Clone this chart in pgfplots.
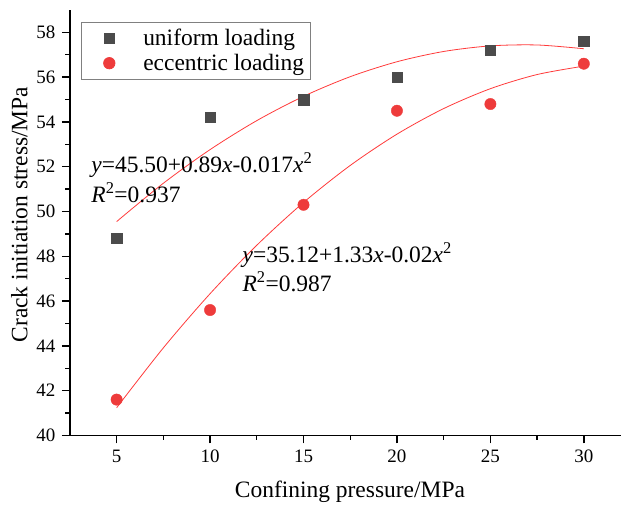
\documentclass[border=0pt]{standalone}
\usepackage{fontspec}
\setmainfont{Liberation Serif}
\usepackage{pgfplots}
\pgfplotsset{compat=1.18}
\definecolor{sq}{HTML}{4B4B4B}
\definecolor{rd}{HTML}{EE3B3B}
\definecolor{fitred}{HTML}{FF3A3A}
\begin{document}
\begin{tikzpicture}
\begin{axis}[
  scale only axis, width=552pt, height=426pt,
  xmin=2.5, xmax=32, ymin=40, ymax=59,
  axis x line=bottom, axis y line=left,
  axis line style={-, line width=1.6pt, black},
  xtick={5,10,...,30}, ytick={40,42,...,58},
  minor x tick num=1, minor y tick num=1,
  tick align=outside,
  major tick length=8pt, minor tick length=4.5pt,
  tick style={line width=1.4pt, black},
  /pgf/number format/assume math mode=true,
  xticklabel={\pgfmathprintnumber[assume math mode=true]{\tick}},
  yticklabel={\pgfmathprintnumber[assume math mode=true]{\tick}},
  ticklabel style={font=\fontsize{19}{22}\selectfont},
  xticklabel style={yshift=-3pt},
  yticklabel style={xshift=-3pt},
  xlabel={Confining pressure/MPa},
  ylabel={Crack initiation stress/MPa},
  label style={font=\fontsize{23.5}{27}\selectfont},
  xlabel style={at={(axis description cs:0.508,-0.1455)}, anchor=base},
  ylabel style={at={(axis description cs:-0.0915,0.519)}, anchor=center},
  legend style={at={(rel axis cs:0.02,0.972)}, anchor=north west,
    draw=gray, line width=0.8pt, font=\fontsize{23.5}{27}\selectfont,
    inner xsep=4pt, inner ysep=5pt, row sep=3pt},
  legend cell align=left,
  legend image code/.code={\path[draw=none, fill=none] (0pt,-1pt) rectangle (40pt,1pt);
    \draw[#1] plot coordinates {(24pt,0pt)};},
  clip=false,
]
\addplot[only marks, mark=square*, mark size=5.2pt, color=sq,
  mark options={fill=sq, draw=sq}]
  coordinates {(5,48.8) (10,54.2) (15,55.0) (20,56.0) (25,57.2) (30,57.6)};
\addlegendentry{\hspace{16pt}uniform loading}
\addplot[only marks, mark=*, mark size=5.7pt, color=rd,
  mark options={fill=rd, draw=rd}]
  coordinates {(5,41.6) (10,45.6) (15,50.3) (20,54.5) (25,54.8) (30,56.6)};
\addlegendentry{\hspace{16pt}eccentric loading}
\addplot[fitred, line width=0.8pt, smooth, forget plot]
  coordinates {(5,49.550) (7.5,51.262) (10,52.765) (12.5,54.059) (15,55.144)
    (17.5,56.021) (20,56.688) (22.5,57.147) (25,57.396) (27.5,57.437) (30,57.269)};
\addplot[fitred, line width=0.8pt, smooth, forget plot]
  coordinates {(5,41.236) (7.5,43.911) (10,46.330) (12.5,48.494) (15,50.403)
    (17.5,52.057) (20,53.454) (22.5,54.597) (25,55.485) (27.5,56.117) (30,56.493)};
\node[anchor=base west, font=\fontsize{23.5}{27}\selectfont, inner sep=0pt]
  at (axis cs:3.64,51.76) {\textit{y}=45.50+0.89\textit{x}-0.017\textit{x}\textsuperscript{2}};
\node[anchor=base west, font=\fontsize{23.5}{27}\selectfont, inner sep=0pt]
  at (axis cs:3.64,50.42) {\textit{R}\textsuperscript{2}=0.937};
\node[anchor=base west, font=\fontsize{23.5}{27}\selectfont, inner sep=0pt]
  at (axis cs:11.73,47.73) {\textit{y}=35.12+1.33\textit{x}-0.02\textit{x}\textsuperscript{2}};
\node[anchor=base west, font=\fontsize{23.5}{27}\selectfont, inner sep=0pt]
  at (axis cs:11.73,46.44) {\textit{R}\textsuperscript{2}=0.987};
\end{axis}
\path ([xshift=-70pt,yshift=-68pt]current axis.south west) rectangle ([yshift=10pt]current axis.north east);
\end{tikzpicture}
\end{document}
